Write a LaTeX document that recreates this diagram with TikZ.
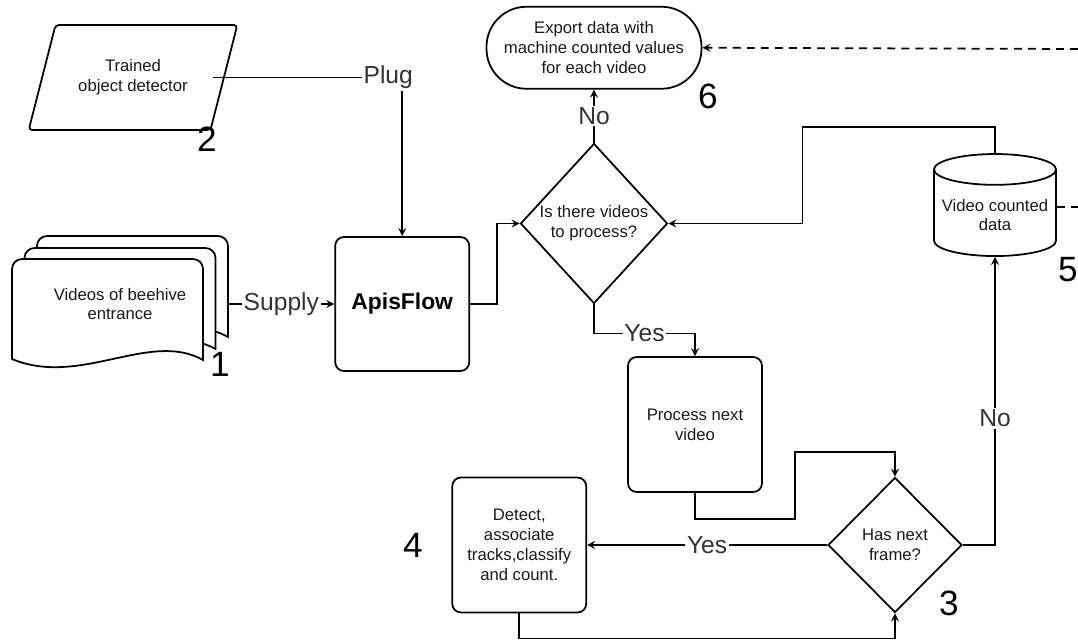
\documentclass[tikz,border=0pt]{standalone}
\usepackage{fontspec}
\setmainfont{Liberation Sans}
\usepackage{tikz}
\usetikzlibrary{shapes.geometric, arrows, positioning}
\newcommand{\boxfont}{\fontsize{9.5}{11.3}\selectfont}
\tikzstyle{process} = [rectangle, rounded corners=5pt, minimum width=2.68cm, minimum height=2.7cm, text centered, draw=black, line width=1pt, align=center, text=black!90, font=\boxfont]
\tikzstyle{decision} = [diamond, minimum width=2.68cm, minimum height=2.7cm, inner sep=0pt, text centered, draw=black, line width=1pt, align=center, text=black!90, font=\boxfont]
\tikzstyle{terminal} = [rectangle, rounded corners=0.8cm, minimum width=4.3cm, minimum height=1.64cm, draw=black, line width=1pt, align=center, text=black!90, font=\boxfont]
\tikzstyle{inputdata} = [trapezium, trapezium left angle=66, trapezium right angle=114, trapezium stretches=true, minimum width=4.2cm, minimum height=2.1cm, rounded corners=2pt, draw=black, line width=1pt, align=center, text=black!90, font=\boxfont]
\tikzstyle{datastore} = [cylinder, shape border rotate=90, aspect=0.28, minimum width=2.44cm, minimum height=2.04cm, inner sep=1pt, draw=black, line width=1pt, align=center, text=black!90, font=\boxfont]
\tikzstyle{page} = [draw=black, fill=white, line width=1pt]
\tikzstyle{arrow} = [line width=1pt,->,>=stealth]
\tikzstyle{edgelabel} = [fill=white, inner sep=1pt, text=black!80, font=\fontsize{14}{16}\selectfont]
\tikzstyle{stepnum} = [font=\fontsize{20}{24}\selectfont]

\begin{document}
\begin{tikzpicture}[node distance=1cm]
\useasboundingbox (0,0) rectangle (21.56,-12.78);
% stack of video pages, back to front
\foreach \dx/\dy in {0.5/0.46, 0.25/0.22, 0/0} {
  \draw[page, shift={(\dx,\dy)}] (0.24,-7.18) -- (0.24,-5.38) arc (180:90:0.2) -- (3.86,-5.18) arc (90:0:0.2) -- (4.06,-7.2) .. controls (3.0,-6.6) and (1.6,-7.75) .. (0.24,-7.18) -- cycle;
}
\node[minimum width=4.32cm, minimum height=2.62cm, align=center, text=black!90, font=\boxfont] (videos) at (2.4,-6.08) {Videos of beehive\\entrance};
\node[inputdata] (detector) at (2.66,-1.55) {Trained\\object detector};
\node[process, minimum height=2.68cm, font=\bfseries\fontsize{13}{15}\selectfont, text=black] (apis) [right=2.12cm of videos] {ApisFlow};
\node[decision, minimum width=2.94cm, minimum height=3.2cm] (morevideos) at (11.88,-4.47) {Is there videos\\to process?};
\node[terminal] (export) [above=1.06cm of morevideos] {Export data with\\machine counted values\\for each video};
\node[datastore] (counted) at (19.9,-4.3) {Video counted\\data};
\node[process] (nextvideo) at (13.9,-8.49) {Process next\\video};
\node[decision] (nextframe) at (17.9,-10.9) {Has next\\frame?};
\node[process] (detect) [left=4.8cm of nextframe] {Detect,\\associate\\tracks,classify\\and count.};

% step numbers
\node[stepnum] (n1) at (4.4,-7.28) {1};
\node[stepnum] (n2) at (4.14,-2.78) {2};
\node[stepnum] (n3) at (18.98,-12.06) {3};
\node[stepnum] (n4) at (8.26,-10.9) {4};
\node[stepnum] (n5) at (21.36,-5.4) {5};
\node[stepnum] (n6) at (14.16,-1.92) {6};

\coordinate (edgeA) at (21.56,-0.98);
\coordinate (edgeB) at (21.56,-4.14);

\draw[arrow] (videos) -- node[edgelabel] {Supply} (apis);
\draw[arrow] ([xshift=1.6cm]detector.center) -| node[edgelabel, pos=0.5, xshift=-0.28cm] {Plug} (apis.north);
\draw[arrow] (apis.east) -- ++(0.54,0) |- (morevideos.west);
\draw[arrow] (morevideos.north) -- node[edgelabel] {No} (export.south);
\draw[arrow] (morevideos.south) -- ++(0,-0.58) -| node[edgelabel, pos=0.25] {Yes} (nextvideo.north);
\draw[arrow] (nextvideo.south) -- ++(0,-0.52) -| ++(2.0,1.34) -| (nextframe.north);
\draw[arrow] (nextframe.west) -- node[edgelabel] {Yes} (detect.east);
\draw[arrow] (detect.south) -- ++(0,-0.5) -| (nextframe.south);
\draw[arrow] (nextframe.east) -| node[edgelabel, pos=0.72] {No} (counted.south);
\draw[arrow] (counted.north) -- ++(0,0.52) -| ([xshift=2.68cm]morevideos.east) -- (morevideos.east);
\draw[arrow, dash pattern=on 4.5pt off 3.5pt] (edgeA) -- (export.east);
\draw[line width=1pt, dash pattern=on 4.5pt off 3.5pt] (edgeB -| counted.east) -- (edgeB);
\end{tikzpicture}
\end{document}
